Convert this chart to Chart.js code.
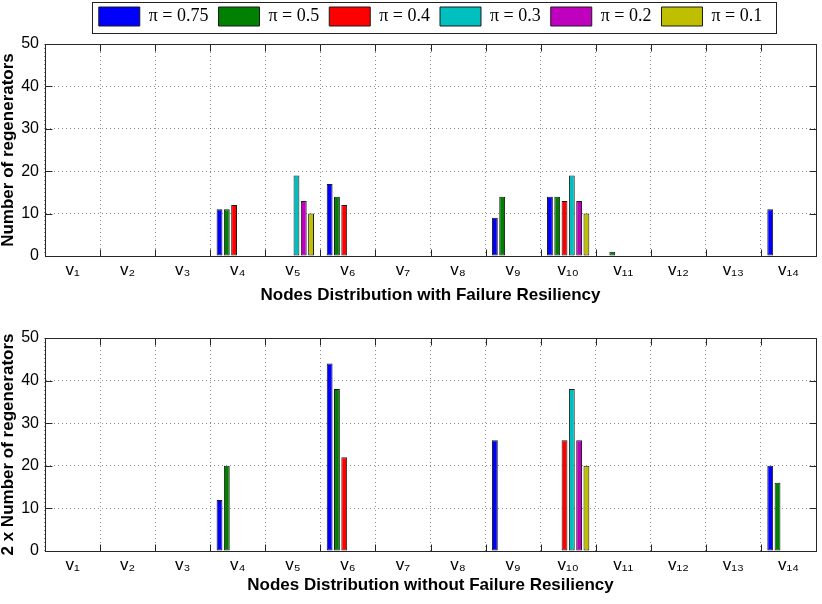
<!DOCTYPE html>
<html>
<head>
<meta charset="utf-8">
<script src="https://cdn.jsdelivr.net/npm/chart.js@4.4.1/dist/chart.umd.min.js"></script>
<style>
  html, body { margin: 0; padding: 0; background: #fff; }
  canvas { display: block; }
</style>
</head>
<body>
<canvas id="top" width="822" height="310"></canvas>
<canvas id="bottom" width="822" height="294"></canvas>
<script>
// ---- data ----
const categories = ['v₁','v₂','v₃','v₄','v₅','v₆','v₇','v₈','v₉','v₁₀','v₁₁','v₁₂','v₁₃','v₁₄'];
const seriesLabels = ['π = 0.75','π = 0.5','π = 0.4','π = 0.3','π = 0.2','π = 0.1'];
const yTicks = [0, 10, 20, 30, 40, 50];

// With failure resiliency (top)
const withP075 = [0,0,0,11,0,17,0,0,9,14,0,0,0,11];
const withP05  = [0,0,0,11,0,14,0,0,14,14,1,0,0,0];
const withP04  = [0,0,0,12,0,12,0,0,0,13,0,0,0,0];
const withP03  = [0,0,0,0,19,0,0,0,0,19,0,0,0,0];
const withP02  = [0,0,0,0,13,0,0,0,0,13,0,0,0,0];
const withP01  = [0,0,0,0,10,0,0,0,0,10,0,0,0,0];

// Without failure resiliency (bottom)
const withoutP075 = [0,0,0,12,0,44,0,0,26,0,0,0,0,20];
const withoutP05  = [0,0,0,20,0,38,0,0,0,0,0,0,0,16];
const withoutP04  = [0,0,0,0,0,22,0,0,0,26,0,0,0,0];
const withoutP03  = [0,0,0,0,0,0,0,0,0,38,0,0,0,0];
const withoutP02  = [0,0,0,0,0,0,0,0,0,26,0,0,0,0];
const withoutP01  = [0,0,0,0,0,0,0,0,0,20,0,0,0,0];

// ---- styles ----
const colors = ['#0000ff','#008000','#ff0000','#00bfbf','#bf00bf','#bfbf00'];
const SANS = "'Liberation Sans', Arial, Helvetica, sans-serif";
const SERIF = "'Liberation Serif', 'Times New Roman', serif";
const axisColor = '#262626';
const gridColor = 'rgba(0,0,0,0.45)';

const framePlugin = {
  id: 'matlabFrame',
  afterLayout(chart) {
    const lg = chart.legend;
    if (!lg || !lg.options.display) return;
    const ca = chart.chartArea;
    const pad = lg.options.labels.padding;
    const lw = lg.lineWidths[0];
    const start = (lg.left + pad + lg.right - lw) / 2;
    const want = (ca.left + ca.right) / 2 - (lw - pad) / 2;
    const dx = want - start, dy = -8;
    lg.left += dx; lg.right += dx; lg.top += dy; lg.bottom += dy;
  },
  afterDraw(chart) {
    const ctx = chart.ctx;
    const ca = chart.chartArea;
    const x = chart.scales.x, y = chart.scales.y;
    const a = v => Math.round(v) + 0.5;
    ctx.save();
    ctx.strokeStyle = axisColor;
    ctx.lineWidth = 1;
    ctx.setLineDash([]);
    ctx.beginPath();
    const L = a(ca.left), R = a(ca.right), T = a(ca.top), B = a(ca.bottom);
    ctx.rect(L, T, R - L, B - T);
    const tl = 7;
    y.ticks.forEach((t, i) => {
      const py = a(y.getPixelForTick(i));
      ctx.moveTo(L, py); ctx.lineTo(L + tl, py);
      ctx.moveTo(R, py); ctx.lineTo(R - tl, py);
    });
    for (let i = 0; i < categories.length - 1; i++) {
      const px = a(x.getPixelForValue(i + 0.5));
      ctx.moveTo(px, B); ctx.lineTo(px, B - tl);
      ctx.moveTo(px, T); ctx.lineTo(px, T + tl);
    }
    ctx.stroke();
    const lg = chart.legend;
    if (lg && lg.options.display && lg.legendHitBoxes && lg.legendHitBoxes.length) {
      const hb = lg.legendHitBoxes;
      const last = hb[hb.length - 1];
      const l = a(hb[0].left - 7), r = a(last.left + last.width + 14);
      const t = a(hb[0].top - 5), b = a(hb[0].top + hb[0].height + 7);
      ctx.strokeStyle = '#222';
      ctx.strokeRect(l, t, r - l, b - t);
    }
    ctx.restore();
  }
};

function makeChart(id, seriesData, xTitle, yTitle, opts) {
  const datasets = seriesData.map((d, i) => ({
    label: seriesLabels[i],
    data: d,
    backgroundColor: colors[i],
    borderColor: '#1a1a1a',
    borderWidth: 1,
    borderSkipped: false,
    categoryPercentage: 0.795,
    barPercentage: 0.8
  }));
  return new Chart(document.getElementById(id), {
    type: 'bar',
    data: { labels: categories, datasets },
    plugins: [framePlugin],
    options: {
      responsive: false,
      animation: false,
      devicePixelRatio: 1,
      layout: { padding: opts.padding },
      plugins: {
        tooltip: { enabled: false },
        legend: {
          display: opts.legend,
          position: 'top',
          align: 'center',
          labels: {
            boxWidth: 41,
            boxHeight: 19,
            padding: 10,
            color: '#000',
            font: { family: SERIF, size: 18 }
          }
        }
      },
      scales: {
        x: {
          type: 'category',
          offset: true,
          grid: { offset: true, color: gridColor, drawTicks: false, lineWidth: 1 },
          border: { display: true, color: axisColor, dash: [1, 3] },
          ticks: { color: '#000', font: { family: SANS, size: 17 }, padding: 4, maxRotation: 0, autoSkip: false },
          title: {
            display: true, text: xTitle, color: '#000',
            font: { family: SANS, size: 17, weight: 'bold', lineHeight: 1.2 },
            padding: { top: 0, bottom: opts.xTitlePad }
          },
          afterFit(s) { s.height = opts.xHeight; }
        },
        y: {
          min: 0, max: 50,
          afterBuildTicks(s) { s.ticks = yTicks.map(v => ({ value: v })); },
          grid: { color: gridColor, drawTicks: false, lineWidth: 1 },
          border: { display: true, color: axisColor, dash: [1, 3] },
          ticks: { color: '#000', font: { family: SANS, size: 16 }, padding: 6 },
          title: {
            display: true, text: yTitle, color: '#000',
            font: { family: SANS, size: 17, weight: 'bold', lineHeight: 1 },
            padding: { top: 0, bottom: 0 }
          },
          afterFit(s) { s.width = 45; }
        }
      }
    }
  });
}

makeChart('top',
  [withP075, withP05, withP04, withP03, withP02, withP01],
  'Nodes Distribution with Failure Resiliency',
  'Number of regenerators',
  { legend: true, padding: { top: 5, left: 0, right: 6, bottom: 0 }, xHeight: 54, xTitlePad: 4 });

makeChart('bottom',
  [withoutP075, withoutP05, withoutP04, withoutP03, withoutP02, withoutP01],
  'Nodes Distribution without Failure Resiliency',
  '2 x Number of regenerators',
  { legend: false, padding: { top: 28, left: 0, right: 6, bottom: 0 }, xHeight: 53, xTitlePad: 8 });
</script>
</body>
</html>
